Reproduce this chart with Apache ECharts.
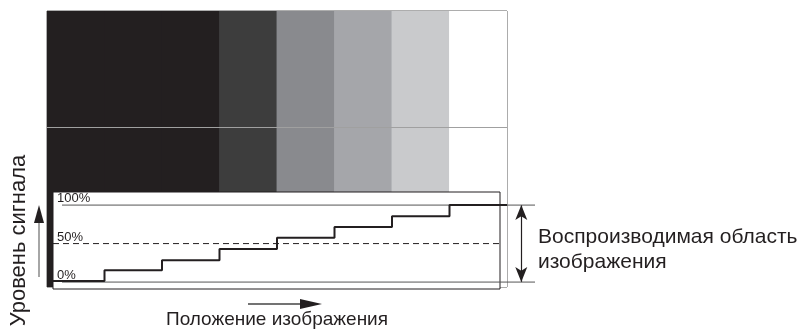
<!DOCTYPE html>
<html>
<head>
<meta charset="utf-8">
<script src="https://cdn.jsdelivr.net/npm/echarts@6/dist/echarts.min.js"></script>
<style>
html, body { margin: 0; padding: 0; background: #fff; }
#chart { width: 805px; height: 334px; }
</style>
</head>
<body>
<div id="chart"></div>
<script>
// полосы тестового изображения (слева направо)
const columns = ['1', '2', '3', '4', '5', '6', '7', '8'];
const columnShades = ['#231f20', '#231f20', '#231f20', '#3d3d3d', '#898a8e', '#a5a6aa', '#c9cacc', '#ffffff'];
const columnHeight = [100, 100, 100, 100, 100, 100, 100, 100];
// уровень сигнала (%) для каждой полосы
const signalLevels = [1.5, 15.5, 28.5, 43, 57.5, 71.5, 85.5, 100];
const levelTicks = [0, 50, 100];
const scanLine = 58;

const FONT = '"Liberation Sans", Arial, sans-serif';
const INK = '#231f20';

const chart = echarts.init(document.getElementById('chart'));

// ступенька: каждая полоса держит свой уровень до следующей границы
const stepData = signalLevels.map((v, i) => [i, v]);
stepData.push([signalLevels.length, signalLevels[signalLevels.length - 1]]);

const lowerY = { min: -9, max: 117 };
const noSplit = { splitLine: { show: false }, splitArea: { show: false } };

const option = {
    animation: false,
    title: {
        text: 'Воспроизводимая область\nизображения',
        left: 538,
        top: 225,
        padding: 0,
        textStyle: { fontFamily: FONT, fontSize: 21, fontWeight: 'normal', lineHeight: 25, color: INK }
    },
    grid: [
        { left: 47, top: 11, width: 460, height: 284, show: true, borderColor: '#5a5a5a', borderWidth: 1, z: 0 },
        { left: 53, top: 192, width: 447, height: 97, show: true, backgroundColor: '#fff', borderColor: INK, borderWidth: 1, z: 10 },
        { left: 47, top: 192, width: 460, height: 97, z: 12 },
        { left: 53, top: 192, width: 482, height: 97, z: 12 }
    ],
    xAxis: [
        {
            type: 'category', gridIndex: 0, data: columns, ...noSplit,
            axisLine: { show: false }, axisTick: { show: false }, axisLabel: { show: false },
            name: 'Положение изображения', nameLocation: 'middle', nameGap: 23,
            nameTextStyle: { fontFamily: FONT, fontSize: 19, color: INK }
        },
        { type: 'value', gridIndex: 1, min: 0, max: 1, show: false, ...noSplit },
        { type: 'value', gridIndex: 2, min: 0, max: 8, show: false, ...noSplit },
        { type: 'value', gridIndex: 3, min: 0, max: 1, show: false, ...noSplit }
    ],
    yAxis: [
        { type: 'value', gridIndex: 0, min: 0, max: 100, show: false, ...noSplit },
        {
            type: 'value', gridIndex: 1, min: lowerY.min, max: lowerY.max, z: 14, ...noSplit,
            axisLine: { show: false }, axisTick: { show: false },
            axisLabel: {
                inside: true, customValues: levelTicks, formatter: '{value}%',
                verticalAlign: 'bottom', margin: 4, fontSize: 13, fontFamily: FONT, color: INK
            }
        },
        { type: 'value', gridIndex: 2, min: lowerY.min, max: lowerY.max, show: false, ...noSplit },
        {
            type: 'value', gridIndex: 3, min: lowerY.min, max: lowerY.max, z: 14, ...noSplit,
            axisLine: { show: false }, axisTick: { show: false }, axisLabel: { show: false },
            name: 'Уровень сигнала', nameLocation: 'middle', nameRotate: 90, nameGap: 32,
            nameTextStyle: { fontFamily: FONT, fontSize: 22, color: INK }
        }
    ],
    series: [
        {
            type: 'bar', xAxisIndex: 0, yAxisIndex: 0, z: 1,
            barWidth: '101.5%',
            data: columnHeight.map((v, i) => ({ value: v, itemStyle: { color: columnShades[i] } })),
            markLine: {
                silent: true, symbol: 'none', label: { show: false },
                lineStyle: { color: '#a0a0a0', width: 1, type: 'solid' },
                data: [{ yAxis: scanLine }]
            }
        },
        {
            // пунктир 50%
            type: 'line', xAxisIndex: 1, yAxisIndex: 1, z: 13, symbol: 'none',
            data: [[0, levelTicks[1]], [1, levelTicks[1]]],
            lineStyle: { color: INK, width: 1, type: [6, 4] }
        },
        {
            type: 'line', xAxisIndex: 3, yAxisIndex: 3, z: 13, symbol: 'none',
            data: [[0, levelTicks[0]], [1, levelTicks[0]]],
            lineStyle: { color: '#555', width: 1 }
        },
        {
            type: 'line', xAxisIndex: 3, yAxisIndex: 3, z: 13, symbol: 'none',
            data: [[0, levelTicks[2]], [1, levelTicks[2]]],
            lineStyle: { color: '#555', width: 1 },
            markLine: {
                silent: true, symbol: ['arrow', 'arrow'], symbolSize: [9, 15], label: { show: false },
                lineStyle: { color: INK, width: 1.2, type: 'solid' },
                data: [[{ coord: [0.971, levelTicks[0]] }, { coord: [0.971, levelTicks[2]] }]]
            }
        },
        {
            type: 'line', xAxisIndex: 2, yAxisIndex: 2, z: 14, symbol: 'none',
            step: 'end', data: stepData,
            lineStyle: { color: INK, width: 2 }
        }
    ],
    graphic: [
        { type: 'line', z: 20, shape: { x1: 39, y1: 277, x2: 39, y2: 220 }, style: { stroke: '#888', lineWidth: 1.5 } },
        { type: 'polygon', z: 20, shape: { points: [[39, 205], [34, 223], [44, 223]] }, style: { fill: INK } },
        { type: 'line', z: 20, shape: { x1: 248, y1: 304, x2: 302, y2: 304 }, style: { stroke: '#444', lineWidth: 1.5 } },
        { type: 'polygon', z: 20, shape: { points: [[322, 304], [300, 299], [300, 309]] }, style: { fill: INK } }
    ]
};

chart.setOption(option);
window.addEventListener('resize', () => chart.resize());
</script>
</body>
</html>
